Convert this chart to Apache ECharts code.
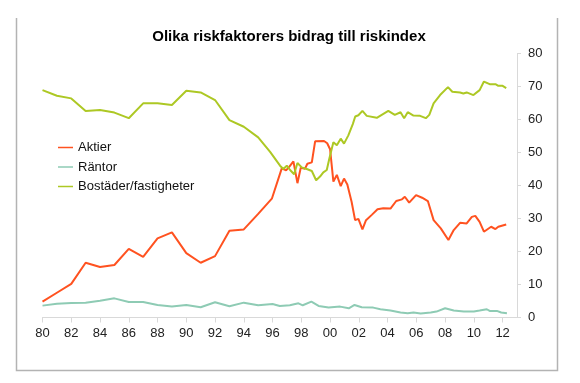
<!DOCTYPE html>
<html>
<head>
<meta charset="utf-8">
<script src="https://cdn.jsdelivr.net/npm/echarts@6/dist/echarts.min.js"></script>
<style>
html,body{margin:0;padding:0;background:#fff;}
#c{width:580px;height:383px;}
</style>
</head>
<body>
<div id="c"></div>
<script>
const titleText = 'Olika riskfaktorers bidrag till riskindex';
const seriesNames = ['Aktier', 'Räntor', 'Bostäder/fastigheter'];
const xTickYears = [1980,1982,1984,1986,1988,1990,1992,1994,1996,1998,2000,2002,2004,2006,2008,2010,2012];

const aktierYears = [1980,1981,1982,1983,1984,1985,1986,1987,1988,1989,1990,1991,1992,1993,1994,1995,1995.95,
  1996.64,1996.94,1997.17,1997.45,1997.73,1997.96,1998.26,1998.42,1998.73,1998.96,1999.58,1999.8,2000.0,
  2000.23,2000.47,2000.74,2000.97,2001.2,2001.5,2001.74,2001.97,2002.25,2002.5,2002.9,2003.3,2003.7,2004.2,
  2004.6,2005.0,2005.2,2005.5,2005.98,2006.4,2006.8,2007.2,2007.7,2008.23,2008.6,2009.04,2009.5,2009.86,
  2010.1,2010.4,2010.7,2011.2,2011.5,2011.7,2012.25];
const aktierValues = [4.8,7.5,10.2,16.6,15.3,15.9,20.8,18.4,24.0,25.8,19.5,16.6,18.6,26.3,26.7,31.4,36.0,
  45.2,44.6,45.7,47.3,40.7,45.4,45.1,46.6,47.0,53.4,53.5,52.8,51.0,
  41.2,43.2,39.8,42.1,40.3,35.0,29.5,29.9,26.7,29.5,31.1,32.8,33.1,33.0,
  35.3,35.8,36.6,34.8,37.1,36.3,35.3,29.5,27.0,23.5,26.5,28.7,28.5,30.5,
  30.8,29.0,26.0,27.5,26.8,27.5,28.2];

const rantorYears = [1980,1981,1982,1983,1984,1985,1986,1987,1988,1989,1990,1991,1992,1993,1994,1995,1996,
  1996.5,1997.2,1997.8,1998.1,1998.7,1999.2,1999.9,2000.7,2001.3,2001.7,2002.2,2003.0,2003.5,2004.2,2004.9,
  2005.4,2005.8,2006.3,2007.0,2007.4,2008.0,2008.6,2009.3,2010.0,2010.4,2010.9,2011.1,2011.6,2011.9,2012.3];
const rantorValues = [3.6,4.2,4.4,4.5,5.1,5.8,4.7,4.7,3.8,3.3,3.8,3.1,4.6,3.4,4.5,3.7,4.1,
  3.5,3.7,4.3,3.7,4.8,3.5,3.0,3.3,2.8,3.8,3.1,3.0,2.5,2.1,1.5,
  1.3,1.5,1.2,1.5,1.8,2.8,2.1,1.8,1.8,2.1,2.5,2.0,2.0,1.5,1.3];

const bostaderYears = [1980,1981,1982,1983,1984,1985,1986,1987,1988,1989,1990,1991,1992,1993,1994,1995,1995.83,
  1996.52,1996.75,1996.99,1997.22,1997.5,1997.73,1998.03,1998.38,1998.73,1999.03,1999.3,1999.53,1999.77,1999.95,
  2000.23,2000.47,2000.74,2000.97,2001.27,2001.58,2001.75,2001.97,2002.25,2002.55,2003.25,2004.05,2004.5,2004.9,
  2005.15,2005.4,2005.8,2006.26,2006.66,2006.9,2007.2,2007.65,2008.2,2008.5,2009.04,2009.27,2009.5,2009.97,
  2010.4,2010.7,2011.1,2011.5,2011.7,2012.0,2012.25];
const bostaderValues = [68.9,67.2,66.4,62.6,62.9,62.1,60.4,64.9,64.9,64.4,68.7,68.2,65.9,59.8,57.8,54.6,50.2,
  46.0,45.0,46.0,44.7,43.4,46.8,45.5,45.0,44.4,41.6,42.7,44.0,44.7,48.2,
  53.1,52.2,54.2,52.7,55.2,58.6,60.9,61.3,62.6,61.1,60.5,62.6,61.4,62.2,
  60.4,62.2,61.2,61.1,60.4,61.4,64.9,67.4,69.8,68.4,68.2,67.9,68.2,67.4,
  68.9,71.5,70.7,70.7,70.2,70.2,69.5];

function pairs(xs, ys) { return xs.map((x, i) => [x, ys[i]]); }

const chart = echarts.init(document.getElementById('c'), null, {renderer: 'canvas'});
const font = 'Liberation Sans, Arial, sans-serif';
chart.setOption({
  animation: false,
  backgroundColor: '#ffffff',
  title: {
    text: titleText,
    left: 284, top: 24, textAlign: 'center',
    textStyle: {fontFamily: font, fontSize: 15, fontWeight: 'bold', color: '#000'}
  },
  legend: {
    orient: 'vertical',
    left: 53, top: 135,
    icon: 'rect', itemWidth: 15, itemHeight: 1.5, itemGap: 4.5,
    data: seriesNames,
    textStyle: {fontFamily: font, fontSize: 13, color: '#111', lineHeight: 15}
  },
  grid: {left: 42.5, right: 63, top: 53.5, bottom: 65.5, containLabel: false},
  xAxis: {
    type: 'value', min: 1980, max: 2013,
    splitLine: {show: false},
    axisLine: {show: true, lineStyle: {color: '#d9d9d9', width: 1}},
    axisTick: {show: true, length: 5, lineStyle: {color: '#d9d9d9'}, customValues: xTickYears},
    axisLabel: {
      customValues: xTickYears, margin: 9,
      fontFamily: font, fontSize: 13, color: '#222',
      formatter: v => String(v % 100).padStart(2, '0')
    }
  },
  yAxis: {
    type: 'value', position: 'right', min: 0, max: 80, interval: 10,
    splitLine: {show: false},
    axisLine: {show: true, lineStyle: {color: '#d9d9d9', width: 1}},
    axisTick: {show: true, length: 4, lineStyle: {color: '#d9d9d9'}},
    axisLabel: {margin: 11, fontFamily: font, fontSize: 13, color: '#222'}
  },
  series: [
    {name: seriesNames[0], type: 'line', data: pairs(aktierYears, aktierValues), showSymbol: false, symbol: 'none',
     lineStyle: {color: '#ff5220', width: 2}, itemStyle: {color: '#ff5220'}},
    {name: seriesNames[1], type: 'line', data: pairs(rantorYears, rantorValues), showSymbol: false, symbol: 'none',
     lineStyle: {color: '#8ecbb4', width: 2}, itemStyle: {color: '#8ecbb4'}},
    {name: seriesNames[2], type: 'line', data: pairs(bostaderYears, bostaderValues), showSymbol: false, symbol: 'none',
     lineStyle: {color: '#adc824', width: 2}, itemStyle: {color: '#adc824'}}
  ],
  graphic: [
    {type: 'polyline', shape: {points: [[16.5, 18], [16.5, 370.5], [557.5, 370.5], [557.5, 18]]},
     style: {stroke: '#b3b3b3', lineWidth: 1.5, fill: null}, silent: true}
  ]
});
</script>
</body>
</html>
